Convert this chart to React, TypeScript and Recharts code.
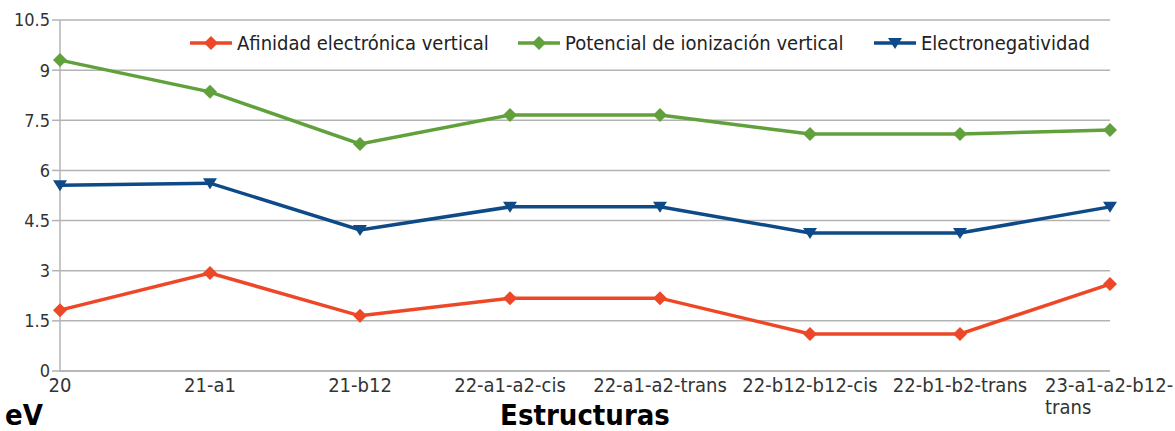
import { LineChart, Line, XAxis, YAxis, CartesianGrid } from "recharts";

const categories = [
  "20",
  "21-a1",
  "21-b12",
  "22-a1-a2-cis",
  "22-a1-a2-trans",
  "22-b12-b12-cis",
  "22-b1-b2-trans",
  "23-a1-a2-b12-trans",
];
const afinidad = [1.82, 2.93, 1.65, 2.18, 2.18, 1.11, 1.11, 2.6];
const potencial = [9.3, 8.35, 6.79, 7.66, 7.66, 7.09, 7.09, 7.21];
const electroneg = [5.56, 5.62, 4.22, 4.91, 4.91, 4.13, 4.13, 4.91];
const yTicks = [0, 1.5, 3, 4.5, 6, 7.5, 9, 10.5];

const RED = "#ee4727";
const GREEN = "#60a13c";
const BLUE = "#0e4a87";
const FONT = "'DejaVu Sans Condensed', 'DejaVu Sans', sans-serif";

const data = categories.map((c, i) => ({
  name: c,
  afinidad: afinidad[i],
  potencial: potencial[i],
  electroneg: electroneg[i],
}));

function Diamond({ cx, cy, color }: { cx?: number; cy?: number; color: string }) {
  if (cx == null || cy == null) return null;
  const r = 7;
  return (
    <polygon
      points={`${cx},${cy - r} ${cx + r},${cy} ${cx},${cy + r} ${cx - r},${cy}`}
      fill={color}
    />
  );
}

function Triangle({ cx, cy, color }: { cx?: number; cy?: number; color: string }) {
  if (cx == null || cy == null) return null;
  return (
    <polygon points={`${cx - 7},${cy - 5} ${cx + 7},${cy - 5} ${cx},${cy + 6}`} fill={color} />
  );
}

// last category wraps onto two lines like the original
function XTick(props: any) {
  const { x, y, payload } = props;
  const label: string = payload.value;
  if (label === "23-a1-a2-b12-trans") {
    return (
      <text x={x - 65} y={y + 13} fontFamily={FONT} fontSize={20} fill="#333">
        <tspan x={x - 65}>23-a1-a2-b12-</tspan>
        <tspan x={x - 65} dy={22}>
          trans
        </tspan>
      </text>
    );
  }
  return (
    <text x={x} y={y + 13} textAnchor="middle" fontFamily={FONT} fontSize={20} fill="#333">
      {label}
    </text>
  );
}

const legendItems = [
  { label: "Afinidad electrónica vertical", color: RED, shape: "diamond", left: 190 },
  { label: "Potencial de ionización vertical", color: GREEN, shape: "diamond", left: 518 },
  { label: "Electronegatividad", color: BLUE, shape: "triangle", left: 874 },
];

function ChartLegend() {
  return (
    <>
      {legendItems.map((it) => (
        <div
          key={it.label}
          style={{
            position: "absolute",
            left: it.left,
            top: 31,
            display: "flex",
            alignItems: "center",
            fontFamily: FONT,
            fontSize: 20,
            color: "#222",
            whiteSpace: "nowrap",
          }}
        >
          <svg width={44} height={20} style={{ marginRight: 3 }}>
            <line x1={0} y1={10} x2={42} y2={10} stroke={it.color} strokeWidth={3.5} />
            {it.shape === "diamond" ? (
              <Diamond cx={21} cy={10} color={it.color} />
            ) : (
              <Triangle cx={21} cy={10} color={it.color} />
            )}
          </svg>
          {it.label}
        </div>
      ))}
    </>
  );
}

export default function App() {
  return (
    <div style={{ position: "absolute", left: 0, top: 0, width: 1175, height: 431, background: "#fff" }}>
      <LineChart
        width={1175}
        height={431}
        data={data}
        margin={{ top: 20, right: 65, left: 0, bottom: 0 }}
      >
        <CartesianGrid vertical={false} stroke="#b3b3b3" strokeWidth={1.5} />
        <XAxis
          dataKey="name"
          height={60}
          tick={<XTick />}
          tickLine={false}
          axisLine={{ stroke: "#b3b3b3", strokeWidth: 1.5 }}
          interval={0}
        />
        <YAxis
          width={60}
          domain={[0, 10.5]}
          ticks={yTicks}
          tickSize={8}
          tickMargin={2}
          tick={{ fontFamily: FONT, fontSize: 18, fill: "#333" }}
          tickLine={{ stroke: "#b3b3b3", strokeWidth: 1.5 }}
          axisLine={{ stroke: "#b3b3b3", strokeWidth: 1.5 }}
        />
        <Line
          dataKey="afinidad"
          name="Afinidad electrónica vertical"
          stroke={RED}
          strokeWidth={3.5}
          isAnimationActive={false}
          dot={(p: any) => <Diamond key={p.index} cx={p.cx} cy={p.cy} color={RED} />}
        />
        <Line
          dataKey="potencial"
          name="Potencial de ionización vertical"
          stroke={GREEN}
          strokeWidth={3.5}
          isAnimationActive={false}
          dot={(p: any) => <Diamond key={p.index} cx={p.cx} cy={p.cy} color={GREEN} />}
        />
        <Line
          dataKey="electroneg"
          name="Electronegatividad"
          stroke={BLUE}
          strokeWidth={3.5}
          isAnimationActive={false}
          dot={(p: any) => <Triangle key={p.index} cx={p.cx} cy={p.cy} color={BLUE} />}
        />
      </LineChart>
      <ChartLegend />
      <div
        style={{
          position: "absolute",
          left: 5,
          top: 402,
          fontFamily: FONT,
          fontWeight: "bold",
          fontSize: 29,
          lineHeight: "26px",
          color: "#000",
        }}
      >
        eV
      </div>
      <div
        style={{
          position: "absolute",
          left: 485,
          width: 200,
          textAlign: "center",
          top: 402,
          fontFamily: FONT,
          fontWeight: "bold",
          fontSize: 29,
          lineHeight: "26px",
          color: "#000",
        }}
      >
        Estructuras
      </div>
    </div>
  );
}
